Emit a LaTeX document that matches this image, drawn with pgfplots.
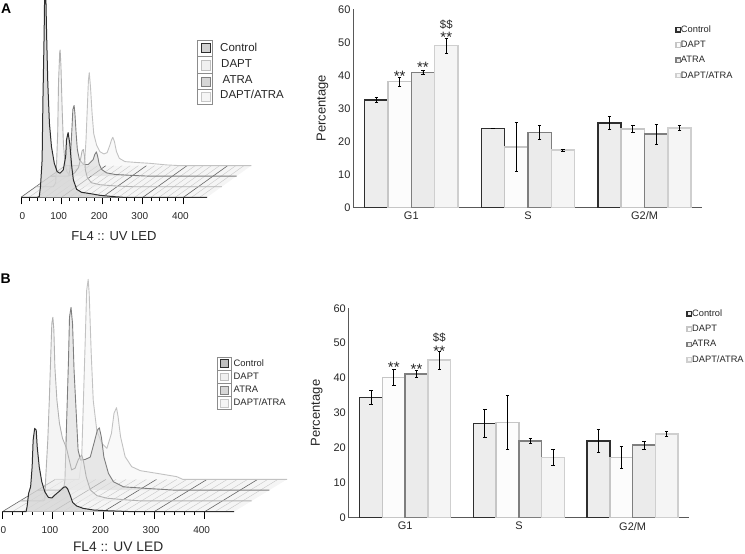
\documentclass[border=0pt]{standalone}
\usepackage{fontspec}
\setmainfont{Liberation Sans}
\usepackage{pgfplots}
\usepackage{pgfplotstable}
\pgfplotsset{compat=1.18}
\definecolor{cDark}{HTML}{2E2E2E}
\definecolor{dLine}{HTML}{C6C6C6}
\definecolor{aLine}{HTML}{7E7E7E}
\definecolor{bLine}{HTML}{CFCFCF}

% bar values: mean and error per phase (0=G1, 1=S, 2=G2/M)
\pgfplotstableread{
x  ctl  ctlE  dapt dapE  atra atrE  both botE
0  32.5 0.7   38.1 1.4   40.9 0.55  49.0 2.3
1  23.9 0.1   18.3 7.4   22.7 2.0   17.3 0.4
2  25.6 1.9   23.8 1.05  22.2 3.0   24.0 0.8
}\barsA
\pgfplotstableread{
x  ctl  ctlE  dapt dapE  atra atrE  both botE
0  34.4 2.0   40.2 2.25  41.2 1.1   45.2 2.6
1  27.0 4.1   27.3 7.7   22.0 0.8   17.3 2.3
2  22.0 3.4   17.3 3.15  20.8 1.1   24.0 0.6
}\barsB

\pgfplotsset{
  barpanel/.style={
    scale only axis, ybar=0pt,
    xmin=-0.5, xmax=2.495, ymin=0, ymax=60,
    xtick={0,1,2}, xticklabels={G1,S,G2/M},
    ytick={0,10,20,30,40,50,60},
    axis x line=bottom, axis y line=left,
    axis line style={-,color=black!65,line width=0.8pt},
    major tick length=0pt,
    /pgf/number format/assume math mode=true,
    tick label style={font=\fontsize{11}{11}\selectfont,color=black!85},
    xticklabel style={yshift=-1pt},
    yticklabel style={xshift=1pt},
    ylabel={Percentage},
    clip=false,
    legend cell align=left,
    legend image code/.code={\draw[##1,line width=1.3pt] (0pt,-2.2pt) rectangle (4.4pt,2.2pt);},
    legend style={draw=none,fill=none,inner sep=0pt,font=\fontsize{9.3}{9.3}\selectfont,
      text=black!85,row sep=6.5pt,
      nodes={inner sep=0pt,text height=6.8pt,text depth=2pt},
      /tikz/every even column/.append style={column sep=3.5pt}},
  },
  ctlbar/.style={draw=cDark,fill=black!7,/tikz/line width=1.5pt},
  dapbar/.style={draw=dLine,fill=black!1,/tikz/line width=1.5pt},
  atrbar/.style={draw=aLine,fill=black!8,/tikz/line width=1.5pt},
  botbar/.style={draw=bLine,fill=black!4,/tikz/line width=1.5pt},
  ebar/.style={error bars/.cd,y dir=both,y explicit,
    error bar style={black,line width=0.9pt},
    error mark options={rotate=90,mark size=1.7pt,black,line width=0.7pt}},
  histpanel/.style={
    scale only axis,
    xmin=0, xmax=458, ymin=0,
    axis x line=bottom, hide y axis,
    axis line style={-,black,line width=0.9pt},
    xtick={0,100,200,300,400}, minor x tick num=4,
    tick align=outside,
    major tick length=7pt, minor tick length=3.5pt,
    major tick style={black,line width=1pt},
    minor tick style={black,line width=0.5pt},
    /pgf/number format/assume math mode=true,
    tick label style={font=\fontsize{10}{10}\selectfont,color=black!85},
    xlabel={FL4 :: UV LED},
    label style={color=black!85},
    clip=false,
  },
  hctl/.style={draw=cDark,fill=black!16,fill opacity=0.8,line width=1pt,line join=round},
  hdap/.style={draw=black!30,fill=black!7,fill opacity=0.6,line width=0.9pt,line join=round},
  hatr/.style={draw=aLine,fill=black!14,fill opacity=0.6,line width=0.9pt,line join=round},
  hbot/.style={draw=black!24,fill=black!4,fill opacity=0.6,line width=0.9pt,line join=round},
}

\begin{document}
\begin{tikzpicture}[x=1pt,y=1pt]
\useasboundingbox (0,0) rectangle (745,554);

% ---- A: histograms
\begin{axis}[histpanel, at={(21pt,356.7pt)}, anchor=south west,
  width=186pt, height=197.3pt, ymax=197.3,
  xticklabels={\hspace{9pt}0,100,200,300,400},
  xticklabel style={xshift=-3pt,yshift=-5pt},
  xlabel style={font=\fontsize{13}{13}\selectfont,yshift=-5pt}]
\fill[black!4] (axis cs:0,0) -- (axis cs:458,0) -- ++(44.3pt,31.7pt) -- ++(-186pt,0pt) -- cycle;
\pgfplotsinvokeforeach{20,40,60,80,120,140,160,180,220,240,260,280,320,340,360,380,420,440}{
  \draw[black!22,line width=0.4pt] (axis cs:#1,0) -- ++(44.3pt,31.7pt);}
\pgfplotsinvokeforeach{0,100,200,300,400}{
  \draw[black!60,line width=0.6pt] (axis cs:#1,0) -- ++(44.3pt,31.7pt);}
\addplot[hbot,shift={(44.3pt,31.68pt)}] table {
0 0
43 0
48 5.7
51 25.7
54 55.7
57 85.7
59 93
62 79
66 52
70 32
77 20.7
85 14
95 11.7
103 13
110 20.7
114 26
117 28.3
121 24
126 14
133 7.3
147 4
180 3
208 2.3
249 0.7
282 0
458 0
};
\addplot[hatr,shift={(29.53pt,21.12pt)}] table {
0 0
44 0
48 6.7
50 26.7
53 50
55 66.7
58 70.7
60 63
63 43
66 26.7
71 16.7
81 11.7
93 11.7
105 16.7
109 21.7
113 24.3
116 20
120 11.7
126 6.7
138 3.3
159 1.7
204 0.7
245 0
458 0
};
\addplot[hdap,shift={(14.77pt,10.56pt)}] table {
0 0
43 0
49 4
51 20.7
54 54
56 104
59 135
60 136.7
62 120.7
65 77
68 44
72 24
76 15.7
83 11
96 14
105 19
110 27
114 35.7
117 37.3
120 30.7
122 17
127 9
137 4
158 2
199 0.7
240 0
458 0
};
\addplot[hctl] table {
0 0
40 0
45 0.7
48 10.7
52 37.3
54 97.3
57 164
58 197
61 205
63 164
66 114
70 74
75 50.7
82 34
89 25.7
96 24
104 27.3
110 40.7
112 57.3
116 64.7
120 54
125 30.7
129 17.3
137 8
149 5
170 3.7
194 2
227 0.7
252 0
458 0
};
\end{axis}

% ---- A: legend
\draw[black!45,line width=0.7pt,fill=white] (197,449.7) rectangle (212.3,513.3);
\draw[black!45,line width=0.7pt] (197,498) -- (212.3,498) (197,480.7) -- (212.3,480.7) (197,465) -- (212.3,465);
\draw[cDark,fill=black!18,line width=1pt] (201,501) rectangle (210,510);
\draw[black!25,fill=black!6,line width=0.9pt] (201,484) rectangle (210,494);
\draw[black!50,fill=black!16,line width=0.9pt] (201,468) rectangle (210,477);
\draw[black!22,fill=black!4,line width=0.9pt] (201,453) rectangle (210,462);
\begin{scope}[every node/.style={anchor=base west,inner sep=0pt,text=black!85,font=\fontsize{11.5}{11.5}\selectfont}]
\node at (220,502) {Control};
\node at (221,486) {DAPT};
\node at (222.5,470.5) {ATRA};
\node at (220,455) {DAPT/ATRA};
\end{scope}

% ---- B: histograms
\begin{axis}[histpanel, at={(2.3pt,42.3pt)}, anchor=south west,
  width=231.7pt, height=230pt, ymax=230,
  xticklabels={\hspace{8pt}0,100,200,300,400},
  xticklabel style={xshift=-3pt,yshift=-4pt},
  xlabel style={font=\fontsize{13.8}{13.8}\selectfont,yshift=-1.5pt}]
\fill[black!4] (axis cs:0,0) -- (axis cs:458,0) -- ++(53pt,32.3pt) -- ++(-231.7pt,0pt) -- cycle;
\pgfplotsinvokeforeach{20,40,60,80,120,140,160,180,220,240,260,280,320,340,360,380,420,440}{
  \draw[black!22,line width=0.4pt] (axis cs:#1,0) -- ++(53pt,32.3pt);}
\pgfplotsinvokeforeach{0,100,200,300,400}{
  \draw[black!60,line width=0.6pt] (axis cs:#1,0) -- ++(53pt,32.3pt);}
\addplot[hbot,shift={(53pt,32.34pt)}] table {
0 0
47 0
52 19
55 69
59 136
62 189
65 200
67 186
71 126
75 79
82 49
92 36
102 31
111 46
116 66
121 71.7
124 63
129 42.7
138 22.7
151 12.7
168 8.7
201 6
240 2.7
252 0
458 0
};
\addplot[hatr,shift={(35.33pt,21.56pt)}] table {
0 0
51 0
54 10
57 63
61 130
63 173
66 182.7
69 166.7
72 120
76 80
80 40
85 30
94 30.7
104 33
113 50
118 60
122 62.3
126 53
131 33
140 16.7
150 8.3
170 3.3
216 1.7
249 0.7
270 0
458 0
};
\addplot[hdap,shift={(17.67pt,10.78pt)}] table {
0 0
46 0
49 1
51 24
55 61
58 101
61 147.7
63 177.7
65 183.7
67 171
69 134
73 101
78 77.7
84 62.7
92 52.7
102 31
109 32.7
115 41
119 44
122 46
125 41
131 24
139 11
152 5.3
172 2.7
211 1
240 0
458 0
};
\addplot[hctl] table {
0 0
47 0
49 5
52 18.3
56 25
59 45
61 71.7
64 83.3
67 81.7
69 65
73 45
78 30
84 20
91 14.3
98 13.7
104 16.7
114 21
121 24.3
125 25
129 23
134 16.7
139 9.3
147 5.7
160 3.3
180 1.7
206 1
259 0
458 0
};
\end{axis}

% ---- B: legend
\draw[black!45,line width=0.7pt,fill=white] (217,144.3) rectangle (231.7,197);
\draw[black!45,line width=0.7pt] (217,184) -- (231.7,184) (217,170.7) -- (231.7,170.7) (217,157.3) -- (231.7,157.3);
\draw[cDark,fill=black!25,line width=1pt] (220.5,186.5) rectangle (228,194);
\draw[black!25,fill=black!6,line width=0.9pt] (220.5,173.5) rectangle (228,181);
\draw[black!50,fill=black!16,line width=0.9pt] (220.5,160) rectangle (228,167.5);
\draw[black!22,fill=black!4,line width=0.9pt] (220.5,147) rectangle (228,154.5);
\begin{scope}[every node/.style={anchor=base west,inner sep=0pt,text=black!85,font=\fontsize{9.4}{9.4}\selectfont}]
\node at (233.5,187) {Control};
\node at (233.5,174) {DAPT};
\node at (233.5,161) {ATRA};
\node at (233.5,148) {DAPT/ATRA};
\end{scope}

% ---- A: bars
\begin{axis}[barpanel, at={(353pt,346.7pt)}, anchor=south west,
  width=349.3pt, height=198pt, bar width=23.33pt,
  every axis y label/.style={at={(rel axis cs:-0.087,0.5)},rotate=90,anchor=center,
    font=\fontsize{13}{13}\selectfont,color=black!85},
  legend style={at={(rel axis cs:0.922,0.92)},anchor=north west}]
\addplot[ctlbar,ebar] table[x=x,y=ctl,y error=ctlE] {\barsA};
\addplot[dapbar,ebar] table[x=x,y=dapt,y error=dapE] {\barsA};
\addplot[atrbar,ebar] table[x=x,y=atra,y error=atrE] {\barsA};
\addplot[botbar,ebar] table[x=x,y=both,y error=botE] {\barsA};
\legend{Control,DAPT,ATRA,DAPT/ATRA}
\begin{scope}[every node/.style={inner sep=0pt,text=black!85}]
\node[font=\fontsize{15}{15}\selectfont] at (axis cs:-0.1,39.7) {**};
\node[font=\fontsize{15}{15}\selectfont] at (axis cs:0.1,42.3) {**};
\node[font=\fontsize{15}{15}\selectfont] at (axis cs:0.3,51.5) {**};
\node[font=\fontsize{11.4}{11.4}\selectfont] at (axis cs:0.3,55.3) {\$\$};
\end{scope}
\end{axis}

% ---- B: bars
\begin{axis}[barpanel, at={(348.3pt,36.3pt)}, anchor=south west,
  width=340.7pt, height=209.4pt, bar width=22.73pt,
  every axis y label/.style={at={(rel axis cs:-0.0927,0.5)},rotate=90,anchor=center,
    font=\fontsize{13}{13}\selectfont,color=black!85},
  legend style={at={(rel axis cs:0.992,0.995)},anchor=north west}]
\addplot[ctlbar,ebar] table[x=x,y=ctl,y error=ctlE] {\barsB};
\addplot[dapbar,ebar] table[x=x,y=dapt,y error=dapE] {\barsB};
\addplot[atrbar,ebar] table[x=x,y=atra,y error=atrE] {\barsB};
\addplot[botbar,ebar] table[x=x,y=both,y error=botE] {\barsB};
\legend{Control,DAPT,ATRA,DAPT/ATRA}
\begin{scope}[every node/.style={inner sep=0pt,text=black!85}]
\node[font=\fontsize{15}{15}\selectfont] at (axis cs:-0.1,43) {**};
\node[font=\fontsize{15}{15}\selectfont] at (axis cs:0.1,42.6) {**};
\node[font=\fontsize{15}{15}\selectfont] at (axis cs:0.3,47.8) {**};
\node[font=\fontsize{11.4}{11.4}\selectfont] at (axis cs:0.3,51.5) {\$\$};
\end{scope}
\end{axis}

% ---- panel letters
\node[anchor=base west,inner sep=0pt,font=\bfseries\fontsize{14}{14}\selectfont] at (1,540.5) {A};
\node[anchor=base west,inner sep=0pt,font=\bfseries\fontsize{14}{14}\selectfont] at (0.5,270.7) {B};
\end{tikzpicture}
\end{document}
